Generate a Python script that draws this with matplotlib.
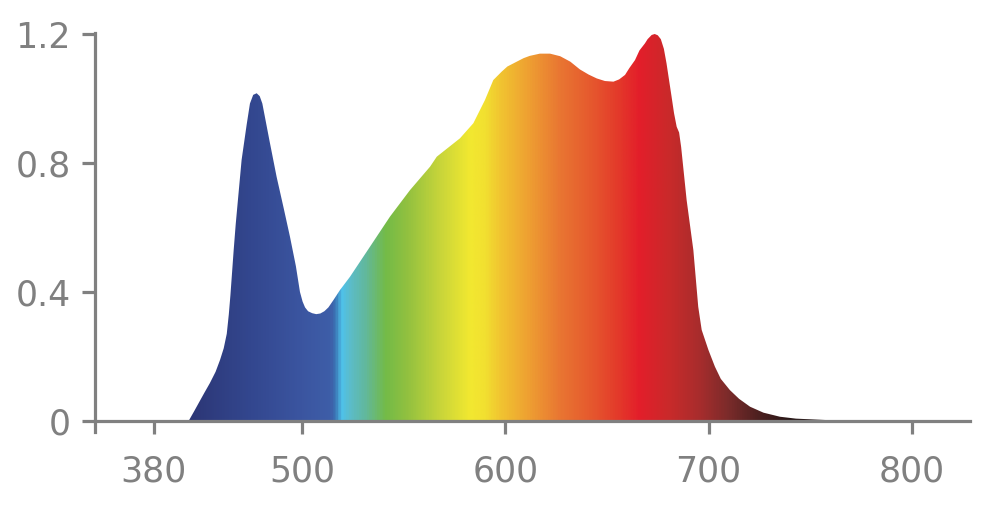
"""
Spectral power distribution, filled with a wavelength colour gradient.
"""
import numpy as np
import matplotlib
matplotlib.use("Agg")
import matplotlib.pyplot as plt
from matplotlib.colors import LinearSegmentedColormap, Normalize

# wavelength (nm) and relative intensity
wavelength = [444.3, 447, 449.8, 452, 454.7, 457.5, 459.7, 461.5, 463, 464,
              464.8, 465.6, 466.4, 467.4, 468.7, 470.3, 472.8, 474.4, 476,
              477.7, 479.2, 480.5, 484, 487.5, 491, 494.1, 497, 499, 500.3,
              501.5, 503, 505, 507, 509, 511, 513, 515.5, 518.7, 523.6, 533.4,
              543.3, 553.1, 563, 566.3, 570.3, 577.7, 584.3, 590, 594.1,
              598.2, 601, 605.6, 609, 612, 617, 622, 627, 632, 636.7, 641,
              645, 649, 653.2, 656, 658.9, 661, 663.8, 666, 668.7, 670, 672,
              673.5, 675, 676.5, 678, 679.3, 680.5, 681.8, 683, 684.3, 685.5,
              686.5, 689.2, 692.5, 694.9, 696.6, 699.9, 703.1, 706, 710.5,
              715, 720.4, 727, 735.1, 743, 751.5, 760, 770]
intensity = [0, 0.03, 0.062, 0.087, 0.117, 0.152, 0.189, 0.225, 0.27, 0.33,
             0.39, 0.46, 0.53, 0.61, 0.70, 0.81, 0.92, 0.985, 1.012, 1.017,
             1.008, 0.985, 0.87, 0.758, 0.66, 0.571, 0.48, 0.40, 0.37,
             0.352, 0.34, 0.334, 0.331, 0.333, 0.34, 0.352, 0.375, 0.406,
             0.447, 0.54, 0.634, 0.716, 0.789, 0.82, 0.84, 0.877, 0.924,
             0.996, 1.058, 1.084, 1.10, 1.115, 1.126, 1.133, 1.14, 1.14,
             1.132, 1.115, 1.091, 1.075, 1.063, 1.055, 1.053, 1.06, 1.074,
             1.095, 1.12, 1.15, 1.172, 1.185, 1.198, 1.201, 1.197, 1.185,
             1.155, 1.11, 1.06, 1.006, 0.955, 0.913, 0.895, 0.85, 0.685,
             0.53, 0.354, 0.282, 0.22, 0.168, 0.13, 0.095, 0.068, 0.0435,
             0.025, 0.0124, 0.0065, 0.004, 0.0015, 0]

# colour stops of the fill gradient
stop_nm = [444, 447.4, 474.4, 499, 513.8, 516.2, 519.2, 523.6, 531, 540.8,
           550.7, 567.9, 582.6, 590, 597.4, 612.1, 626.9, 641.7, 656.4,
           666.3, 681, 695.8, 710.5, 725.3, 740, 770]
stop_colors = ["#2c3675", "#2d3878", "#33478f", "#3b55a0", "#3e5ea8",
               "#3a75b5", "#4fc2ea", "#5cbcc8", "#62b89c", "#73bb48",
               "#8fc040", "#c8d53a", "#f2e830", "#f2e030", "#f1c530",
               "#ee9e32", "#e97632", "#e65a2e", "#e3382a", "#e31e2a",
               "#c92a2a", "#a82d2d", "#7a2b2a", "#4c2020", "#2a1818",
               "#201414"]

tick_pos = [427, 500, 600, 700, 800]
tick_labels = ["380", "500", "600", "700", "800"]
ytick_pos = [0, 0.4, 0.8, 1.2]
ytick_labels = ["0", "0.4", "0.8", "1.2"]

GREY = "#808080"


def main():
    plt.rcParams["font.family"] = ["DejaVu Sans"]
    fig = plt.figure(figsize=(9.94, 5.08), dpi=100)
    ax = fig.add_axes([0.0956, 0.1496, 0.8803, 0.786])

    xmin, xmax = 398.2, 828.6
    ymin, ymax = -0.035, 1.205

    fill = ax.fill_between(wavelength, intensity, 0, color="none", lw=0)
    clip = fill.get_paths()[0]

    lo, hi = stop_nm[0], stop_nm[-1]
    cmap = LinearSegmentedColormap.from_list(
        "spec", [((w - lo) / (hi - lo), c) for w, c in zip(stop_nm, stop_colors)])
    grid = np.linspace(lo, hi, 1200)[None, :]
    img = ax.imshow(grid, cmap=cmap, norm=Normalize(lo, hi), aspect="auto",
                    extent=[lo, hi, 0, 1.25], origin="lower",
                    interpolation="bilinear", zorder=1)
    img.set_clip_path(clip, transform=ax.transData)

    ax.set_xlim(xmin, xmax)
    ax.set_ylim(ymin, ymax)

    for side in ("top", "right"):
        ax.spines[side].set_visible(False)
    ax.spines["bottom"].set_position(("data", 0))
    for side in ("left", "bottom"):
        ax.spines[side].set_color(GREY)
        ax.spines[side].set_linewidth(2.3)
        ax.spines[side].set_zorder(3)

    ax.set_xticks(tick_pos)
    ax.set_xticklabels(tick_labels)
    ax.set_yticks(ytick_pos)
    ax.set_yticklabels(ytick_labels)
    ax.tick_params(axis="both", colors=GREY, labelcolor=GREY, labelsize=25,
                   length=9.5, width=2.3, direction="out")
    ax.tick_params(axis="x", pad=15)
    ax.tick_params(axis="y", pad=8)

    fig.savefig("out.png", dpi=100)
    plt.close(fig)


if __name__ == "__main__":
    main()
